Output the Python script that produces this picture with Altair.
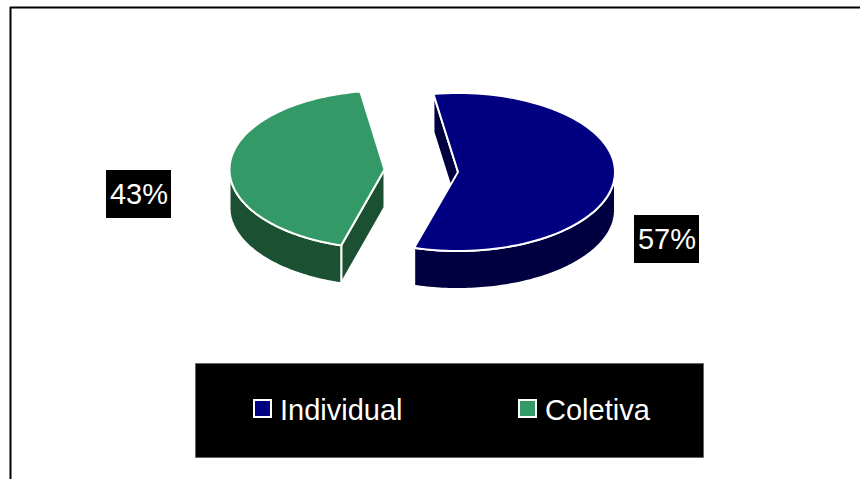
import math
import altair as alt
import pandas as pd

# Pie values and styling
categories = ["Individual", "Coletiva"]
shares = [57, 43]
top_colors = ["#000080", "#339966"]
side_colors = ["#000040", "#1B5033"]

# Page size in pixels and 3D pie geometry: one centre and width for each exploded slice
W, H = 860, 479
RY, DEPTH = 79, 38
START_DEG = -9
CENTERS = [(458, 172, 157), (384.5, 169.5, 155)]


def rim(slice_geom, t0, t1, drop=0, n=90):
    """Points along the tilted pie rim between two clock angles (degrees)."""
    cx, cy, rx = slice_geom
    pts = []
    for i in range(n + 1):
        t = math.radians(t0 + (t1 - t0) * i / n)
        pts.append((cx + rx * math.sin(t), cy - RY * math.cos(t) + drop))
    return pts


def feature(points, fill):
    # Screen y runs downwards, the reflected identity projection expects it upwards
    ring = [[x, H - y] for x, y in points]
    ring.append(ring[0])
    return {
        "type": "Feature",
        "properties": {"fill": fill},
        "geometry": {"type": "Polygon", "coordinates": [ring]},
    }


def shapes(features):
    data = alt.InlineData(
        values={"type": "FeatureCollection", "features": features},
        format=alt.DataFormat(type="json", property="features"),
    )
    return (
        alt.Chart(data)
        .mark_geoshape(stroke="white", strokeWidth=2, strokeJoin="miter")
        .encode(fill=alt.Color("properties.fill:N", scale=None, legend=None))
        .project(type="identity", reflectY=True, scale=1, translate=[0, H])
    )


# Slice spans follow from the shares
blue_t0 = START_DEG
blue_t1 = blue_t0 + shares[0] * 3.6
green_t0 = blue_t1
green_t1 = green_t0 + shares[1] * 3.6
blue, green = CENTERS
bx, by = blue[:2]
gx, gy = green[:2]

walls = [
    # Inner cut of the blue slice, behind everything else
    feature(
        [rim(blue, blue_t0, blue_t0, n=1)[0], (bx, by), (bx, by + DEPTH),
         rim(blue, blue_t0, blue_t0, DEPTH, n=1)[0]],
        side_colors[0],
    ),
    # Blue outer wall
    feature(rim(blue, 90, blue_t1) + rim(blue, blue_t1, 90, DEPTH), side_colors[0]),
    # Green cut face
    feature(
        [(gx, gy), rim(green, green_t0, green_t0, n=1)[0],
         rim(green, green_t0, green_t0, DEPTH, n=1)[0], (gx, gy + DEPTH)],
        side_colors[1],
    ),
    # Green outer wall
    feature(rim(green, green_t0, 270) + rim(green, 270, green_t0, DEPTH), side_colors[1]),
]
tops = [
    feature([(bx, by)] + rim(blue, blue_t0, blue_t1), top_colors[0]),
    feature([(gx, gy)] + rim(green, green_t0, green_t1), top_colors[1]),
]

xs = alt.Scale(domain=[0, W], nice=False, zero=False)
ys = alt.Scale(domain=[H, 0], nice=False, zero=False)
X = lambda f: alt.X(f, type="quantitative", scale=xs, axis=None)
Y = lambda f: alt.Y(f, type="quantitative", scale=ys, axis=None)

# Chart frame: only the top and left edges fall inside the page
frame_top = alt.Chart(pd.DataFrame({"x": [10], "x2": [W], "y": [7.5]})).mark_rule(
    color="#000000", strokeWidth=2
).encode(x=X("x"), x2="x2", y=Y("y"))
frame_left = alt.Chart(pd.DataFrame({"x": [10.5], "y": [7], "y2": [H]})).mark_rule(
    color="#000000", strokeWidth=2
).encode(x=X("x"), y=Y("y"), y2="y2")

# Percentage labels on black plates
labels = pd.DataFrame(
    {
        "text": [f"{s}%" for s in shares],
        "x0": [634, 106],
        "x1": [699, 171],
        "y0": [215, 170],
        "y1": [263, 218],
        "xc": [667, 139],
        "yc": [240, 195],
    }
)
plates = alt.Chart(labels).mark_rect(color="#000000").encode(
    x=X("x0"), x2="x1", y=Y("y0"), y2="y1"
)
plate_text = alt.Chart(labels).mark_text(
    font="Liberation Sans", fontSize=29, color="white", align="center", baseline="middle"
).encode(x=X("xc"), y=Y("yc"), text="text:N")

# Legend panel
panel = alt.Chart(pd.DataFrame({"x": [195.5], "x2": [703.5], "y": [363.5], "y2": [457.5]})).mark_rect(
    color="#000000", stroke="#666666", strokeWidth=1
).encode(x=X("x"), x2="x2", y=Y("y"), y2="y2")

legend_df = pd.DataFrame(
    {
        "name": categories,
        "fill": top_colors,
        "sx0": [254, 519],
        "sx1": [271, 536],
        "sy0": [400, 400],
        "sy1": [417, 417],
        "tx": [280, 545],
        "ty": [411, 411],
    }
)
swatches = alt.Chart(legend_df).mark_rect(stroke="white", strokeWidth=2).encode(
    x=X("sx0"), x2="sx1", y=Y("sy0"), y2="sy1",
    fill=alt.Color("fill:N", scale=None, legend=None),
)
legend_text = alt.Chart(legend_df).mark_text(
    font="Liberation Sans", fontSize=29, color="white", align="left", baseline="middle"
).encode(x=X("tx"), y=Y("ty"), text="name:N")

chart = (
    alt.layer(
        frame_top, frame_left, shapes(walls), shapes(tops),
        plates, plate_text, panel, swatches, legend_text,
    )
    .properties(width=W, height=H, padding=0, autosize=alt.AutoSizeParams(type="none"), background="white")
    .configure_view(stroke=None)
)

chart.save("out.html", embed_options={"renderer": "svg", "actions": False})
